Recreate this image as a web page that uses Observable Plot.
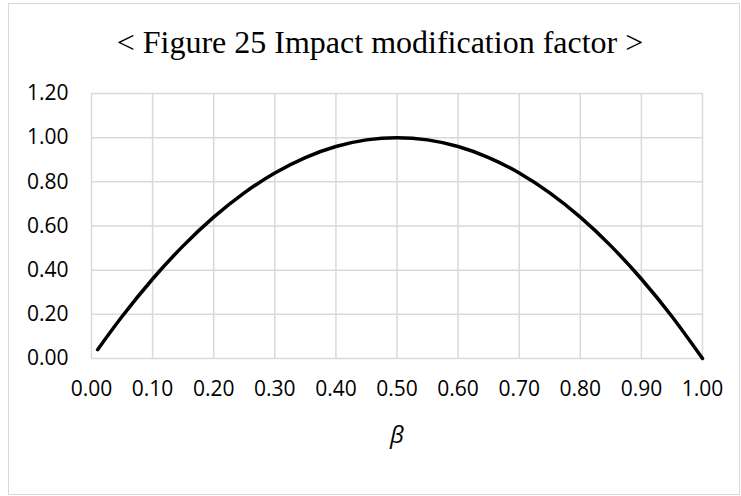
<!DOCTYPE html>
<html>
<head>
<meta charset="utf-8">
<script src="https://cdn.jsdelivr.net/npm/d3@7"></script>
<script src="https://cdn.jsdelivr.net/npm/@observablehq/plot@0.6"></script>
<style>
  html, body { margin: 0; padding: 0; background: white; }
  body { width: 741px; height: 496px; position: relative; overflow: hidden; }
  #frame { position: absolute; left: 8px; top: 3px; width: 732px; height: 492px; border: 1.5px solid #d9d9d9; box-sizing: border-box; }
  #title { position: absolute; left: 380px; top: 26px; transform: translateX(-50%); white-space: nowrap;
           font-family: "Liberation Serif", "Times New Roman", serif; font-size: 32px; line-height: 32px; color: #000; }
  #chart { position: absolute; left: 0; top: 70px; }
</style>
</head>
<body>
<div id="frame"></div>
<div id="title">&lt; Figure 25 Impact modification factor &gt;</div>
<div id="chart"></div>
<script>
const beta = [0.01, 0.05, 0.10, 0.15, 0.20, 0.25, 0.30, 0.35, 0.40, 0.45, 0.50, 0.55, 0.60, 0.65, 0.70, 0.75, 0.80, 0.85, 0.90, 0.95, 1.00];
const factor = [0.04, 0.19, 0.36, 0.51, 0.64, 0.75, 0.84, 0.91, 0.96, 0.99, 1.00, 0.99, 0.96, 0.91, 0.84, 0.75, 0.64, 0.51, 0.36, 0.19, 0.00];
const xTicks = [0, 0.1, 0.2, 0.3, 0.4, 0.5, 0.6, 0.7, 0.8, 0.9, 1.0];
const yTicks = [0, 0.2, 0.4, 0.6, 0.8, 1.0, 1.2];
const xLabel = "β";

const data = beta.map((b, i) => ({beta: b, factor: factor[i]}));

const chart = Plot.plot({
  width: 741,
  height: 426,
  marginLeft: 91,
  marginRight: 39,
  marginTop: 23,
  marginBottom: 138,
  style: {background: "transparent", fontFamily: "'Open Sans', sans-serif", fontSize: "21px", color: "#000", overflow: "visible"},
  x: {domain: [0, 1]},
  y: {domain: [0, 1.2]},
  marks: [
    Plot.ruleX(xTicks, {stroke: "#d9d9d9", strokeWidth: 1.5, strokeOpacity: 1}),
    Plot.ruleY(yTicks, {stroke: "#d9d9d9", strokeWidth: 1.5, strokeOpacity: 1}),
    Plot.axisX({ticks: xTicks, tickSize: 0, tickPadding: 23, tickFormat: d3.format(".2f"), label: null, fill: "#000", fontSize: 21}),
    Plot.axisY({ticks: yTicks, tickSize: 0, tickPadding: 23, tickFormat: d3.format(".2f"), label: null, fill: "#000", fontSize: 21}),
    Plot.line(data, {x: "beta", y: "factor", curve: "natural", stroke: "#000", strokeWidth: 3.5}),
    Plot.text([xLabel], {frameAnchor: "bottom", dy: 84, text: d => d, fontSize: 24, fontStyle: "italic", fill: "#000"})
  ]
});
document.getElementById("chart").appendChild(chart);
</script>
</body>
</html>
